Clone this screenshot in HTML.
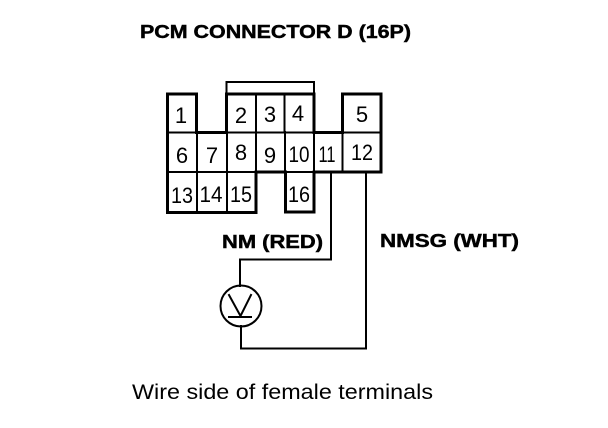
<!DOCTYPE html>
<html>
<head>
<meta charset="utf-8">
<style>
html,body{margin:0;padding:0;background:#fff;width:608px;height:428px;overflow:hidden}
svg{display:block}
text{font-family:"Liberation Sans",sans-serif;fill:#000}
.n{font-size:22px;text-anchor:middle}
.b{font-weight:bold;font-size:18px;stroke:#000;stroke-width:.45}
</style>
</head>
<body>
<svg width="608" height="428" viewBox="0 0 608 428" xmlns="http://www.w3.org/2000/svg">
<g fill="none" stroke="#000" stroke-linecap="square">
<path stroke-width="3" d="M167.5 94V212.5H256V172H285.5V212H314V172H381V94H342.5V132.5H314V94H226.5V132.5H196.500V94Z"/>
<path stroke-width="2" d="M226.500 94V82H314V94"/>
<path stroke-width="2" d="M167 132.500H381M167 172H381"/>
<path stroke-width="2" d="M256 94V172M284.500 94V132M197 132V212M227 132V212M285 132V172M314 132V172M342.500 132V172"/>
<path stroke-width="2" d="M331 172V259.500H240V286"/>
<path stroke-width="2" d="M366 172V348.500H241V326"/>
<circle cx="241" cy="306" r="20.500" stroke-width="2"/>
<path stroke-width="2" d="M229 295L240.500 316L251 295"/>
<path stroke-width="2" d="M229 317H251"/>
</g>
<text class="n" x="181" y="123">1</text>
<text class="n" x="241" y="123">2</text>
<text class="n" x="270" y="122">3</text>
<text class="n" x="298" y="121">4</text>
<text class="n" x="362" y="122">5</text>
<text class="n" x="182" y="163">6</text>
<text class="n" x="212" y="163">7</text>
<text class="n" x="241" y="160">8</text>
<text class="n" x="270" y="163">9</text>
<text class="n" x="299" y="162" textLength="21" lengthAdjust="spacingAndGlyphs">10</text>
<text class="n" x="327" y="162" textLength="17" lengthAdjust="spacingAndGlyphs">11</text>
<text class="n" x="362" y="160" textLength="22" lengthAdjust="spacingAndGlyphs">12</text>
<text class="n" x="182" y="203" textLength="22" lengthAdjust="spacingAndGlyphs">13</text>
<text class="n" x="211" y="202" textLength="23" lengthAdjust="spacingAndGlyphs">14</text>
<text class="n" x="241" y="202" textLength="22" lengthAdjust="spacingAndGlyphs">15</text>
<text class="n" x="299" y="202" textLength="22" lengthAdjust="spacingAndGlyphs">16</text>
<text class="b" x="140" y="38" textLength="271" lengthAdjust="spacingAndGlyphs">PCM CONNECTOR D (16P)</text>
<text class="b" x="222" y="248" textLength="101" lengthAdjust="spacingAndGlyphs">NM (RED)</text>
<text class="b" x="380" y="247" textLength="139" lengthAdjust="spacingAndGlyphs">NMSG (WHT)</text>
<text x="132" y="399" font-size="21" textLength="301" lengthAdjust="spacingAndGlyphs">Wire side of female terminals</text>
</svg>
</body>
</html>
